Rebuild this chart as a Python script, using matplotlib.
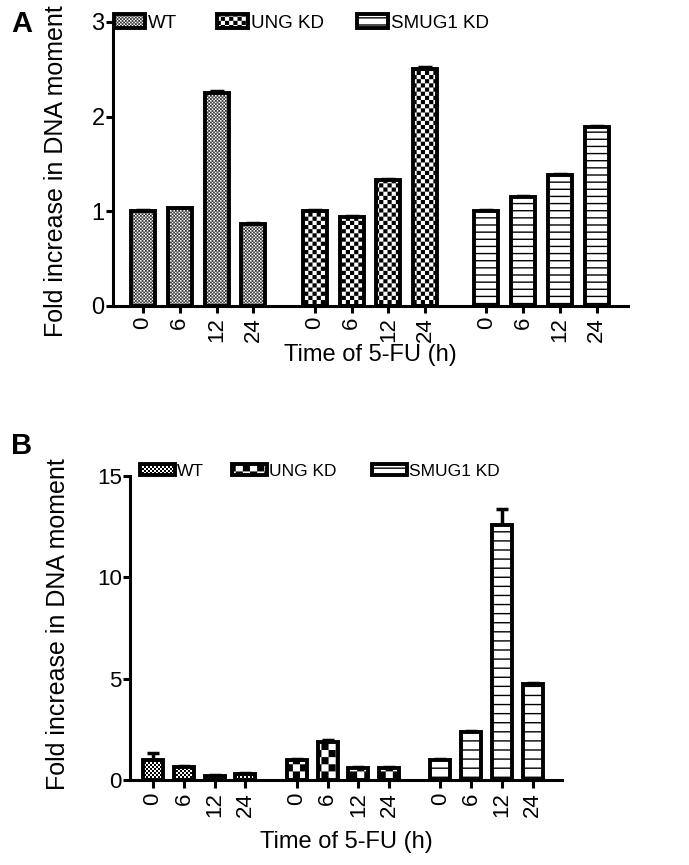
import numpy as np
import matplotlib
matplotlib.use('Agg')
import matplotlib.pyplot as plt
import matplotlib.hatch as mhatch
from matplotlib.path import Path

# ---------------- data ----------------
groups = ['WT', 'UNG KD', 'SMUG1 KD']
time_labels = ['0', '6', '12', '24']

a_wt = [1.00, 1.03, 2.25, 0.87]
a_ung = [1.00, 0.94, 1.33, 2.50]
a_smug = [1.00, 1.15, 1.38, 1.89]
a_wt_err = [0.01, 0.01, 0.02, 0.01]
a_ung_err = [0.01, 0.01, 0.01, 0.02]
a_smug_err = [0.01, 0.01, 0.01, 0.01]

b_wt = [1.00, 0.62, 0.22, 0.30]
b_ung = [1.00, 1.88, 0.60, 0.60]
b_smug = [1.00, 2.38, 12.60, 4.75]
b_wt_err = [0.33, 0.05, 0.03, 0.03]
b_ung_err = [0.04, 0.08, 0.03, 0.03]
b_smug_err = [0.03, 0.06, 0.75, 0.05]

DPI = 100
plt.rcParams['font.family'] = ['Liberation Sans', 'DejaVu Sans']
plt.rcParams['hatch.linewidth'] = 1.0
plt.rcParams['hatch.color'] = 'black'

HATCH_LW_PX = plt.rcParams['hatch.linewidth'] * DPI / 72.0


# ------------- custom hatch patterns (checkerboards / lines) -------------
class HLines(mhatch.HatchPatternBase):
    def __init__(self, hatch, density):
        self.num_lines = hatch.count('-')
        self.num_vertices = self.num_lines * 2 if self.num_lines else 0

    def set_vertices_and_codes(self, vertices, codes):
        steps, stepsize = np.linspace(0.0, 1.0, self.num_lines, False, retstep=True)
        steps += stepsize / 2.
        vertices[0::2, 0] = 0.0
        vertices[0::2, 1] = steps
        vertices[1::2, 0] = 1.0
        vertices[1::2, 1] = steps
        codes[0::2] = Path.MOVETO
        codes[1::2] = Path.LINETO


class CheckerBase(mhatch.HatchPatternBase):
    char = '.'
    shrink_frac = 1.0

    def __init__(self, hatch, density):
        k = hatch.count(self.char)
        self.n = 2 * k
        self.num_vertices = 5 * (self.n * self.n // 2) if k else 0

    def set_vertices_and_codes(self, vertices, codes):
        n = self.n
        shrink = self.shrink_frac * (HATCH_LW_PX / 2.0) / DPI
        ii, jj = np.meshgrid(np.arange(n), np.arange(n), indexing='ij')
        mask = (ii + jj) % 2 == 0
        x0 = ii[mask] / n + shrink
        y0 = jj[mask] / n + shrink
        s = max(1.0 / n - 2 * shrink, 1e-4)
        m = len(x0)
        v = vertices.reshape(m, 5, 2)
        v[:, 0, 0] = x0
        v[:, 0, 1] = y0
        v[:, 1, 0] = x0 + s
        v[:, 1, 1] = y0
        v[:, 2, 0] = x0 + s
        v[:, 2, 1] = y0 + s
        v[:, 3, 0] = x0
        v[:, 3, 1] = y0 + s
        v[:, 4, :] = v[:, 0, :]
        c = codes.reshape(m, 5)
        c[:, 0] = Path.MOVETO
        c[:, 1:4] = Path.LINETO
        c[:, 4] = Path.CLOSEPOLY


class FineChecker(CheckerBase):
    char = '.'
    shrink_frac = 1.0


class BigChecker(CheckerBase):
    char = 'O'
    shrink_frac = 1.0


mhatch._hatch_types = [HLines, FineChecker, BigChecker]

# ---------------- figure ----------------
W, H = 689, 865
fig = plt.figure(figsize=(W / DPI, H / DPI), dpi=DPI)


def fx(px):
    return px / W


def fy(py):
    return 1 - py / H


offsets = [0.0, 4.67, 9.33]


def make_panel(rect, data, errs, hatches, ylim, yticks, xlim, bar_w, capsize,
               ytick_fs, xtick_fs, tick_len_x, ylabel_xy, xlabel_y, legend_pos,
               legend_fs, leg_hl, leg_hh):
    ax = fig.add_axes(rect)
    containers = []
    for g in range(3):
        xs = offsets[g] + np.arange(len(time_labels))
        vals = np.array(data[g])
        err = np.array(errs[g])
        bc = ax.bar(xs, vals, width=bar_w, color='white', edgecolor='black',
                    linewidth=2.8, hatch=hatches[g], label=groups[g], zorder=2)
        ax.errorbar(xs, vals, yerr=[np.zeros_like(err), err], fmt='none',
                    ecolor='black', elinewidth=2.5, capsize=capsize,
                    capthick=2.5, zorder=1)
        containers.append(bc)
    ax.set_ylim(*ylim)
    ax.set_yticks(yticks)
    ax.set_xlim(*xlim)
    allx = np.concatenate([offsets[g] + np.arange(len(time_labels)) for g in range(3)])
    ax.set_xticks(allx)
    ax.set_xticklabels(time_labels * 3, rotation=90, fontsize=xtick_fs)
    for s in ['top', 'right']:
        ax.spines[s].set_visible(False)
    for s in ['left', 'bottom']:
        ax.spines[s].set_linewidth(2.2)
    ax.tick_params(axis='y', width=2.2, length=5, pad=1, labelsize=ytick_fs)
    ax.tick_params(axis='x', width=2.2, length=tick_len_x, pad=3)
    ax.set_ylabel('Fold increase in DNA moment', fontsize=18)
    ax.yaxis.set_label_coords(*ylabel_xy)
    ax.set_xlabel('Time of 5-FU (h)', fontsize=17)
    ax.xaxis.set_label_coords(0.5, xlabel_y)
    for bc, label, (lx, ly) in zip(containers, groups, legend_pos):
        fig.legend([bc], [label], loc='center left', bbox_to_anchor=(lx, ly),
                   bbox_transform=fig.transFigure, frameon=False, borderpad=0,
                   borderaxespad=0, handlelength=leg_hl, handleheight=leg_hh,
                   handletextpad=0.15, fontsize=legend_fs)
    return ax


# Panel A
axA = make_panel(
    rect=[fx(113), fy(306), fx(628) - fx(113), fy(22) - fy(306)],
    data=[a_wt, a_ung, a_smug], errs=[a_wt_err, a_ung_err, a_smug_err],
    hatches=['.' * 30, 'O' * 12, '-' * 14],
    ylim=(0, 3), yticks=[0, 1, 2, 3], xlim=(-0.815, 13.18), bar_w=0.65,
    capsize=5, ytick_fs=17, xtick_fs=16, tick_len_x=5,
    ylabel_xy=(-0.087, 0.475), xlabel_y=-0.135,
    legend_pos=[(fx(114), fy(23)), (fx(217), fy(23)), (fx(357), fy(23))],
    legend_fs=13.5, leg_hl=1.65, leg_hh=0.75)

# Panel B
axB = make_panel(
    rect=[fx(130), fy(780), fx(562) - fx(130), fy(476) - fy(780)],
    data=[b_wt, b_ung, b_smug], errs=[b_wt_err, b_ung_err, b_smug_err],
    hatches=['.' * 25, 'O' * 7, '-' * 11],
    ylim=(0, 15), yticks=[0, 5, 10, 15], xlim=(-0.75, 13.28), bar_w=0.65,
    capsize=4.5, ytick_fs=16, xtick_fs=16, tick_len_x=6,
    ylabel_xy=(-0.139, 0.513), xlabel_y=-0.168,
    legend_pos=[(fx(140), fy(471)), (fx(232), fy(471)), (fx(372), fy(471))],
    legend_fs=12.5, leg_hl=2.0, leg_hh=0.6)

fig.text(fx(22), fy(24), 'A', fontsize=21, fontweight='bold', ha='center', va='center')
fig.text(fx(22), fy(446), 'B', fontsize=21, fontweight='bold', ha='center', va='center')

fig.savefig('out.png', dpi=DPI)
